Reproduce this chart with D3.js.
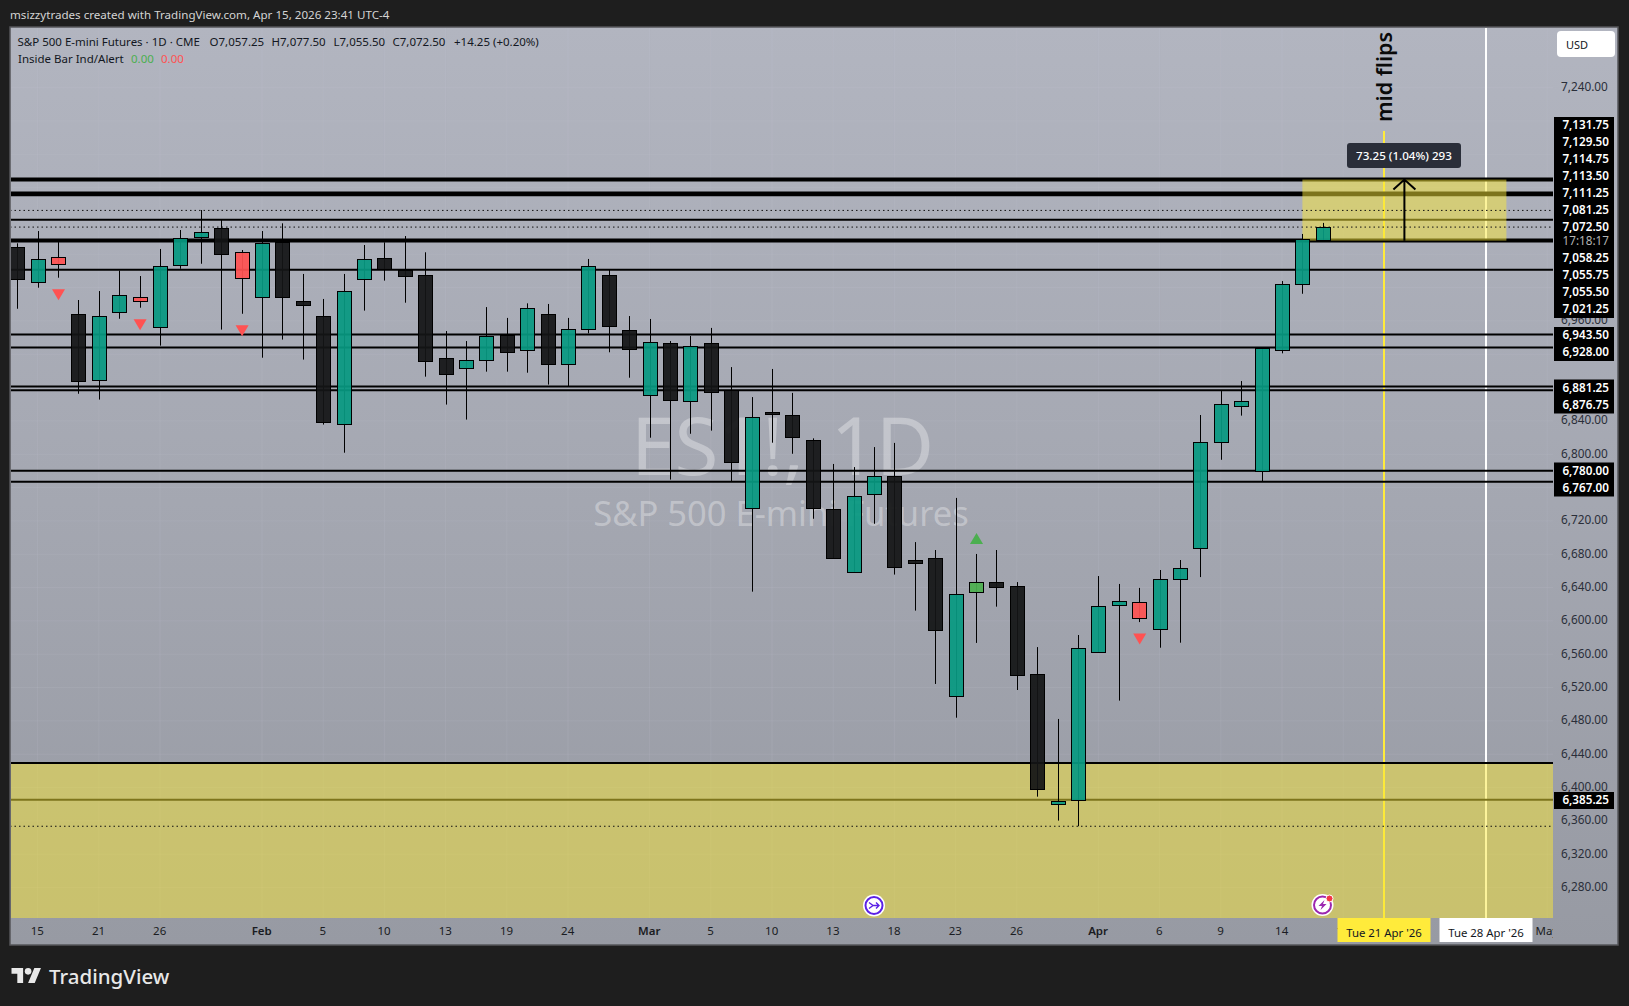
<!DOCTYPE html>
<html>
<head>
<meta charset="utf-8">
<title>ES1!, 1D</title>
<script src="https://cdn.jsdelivr.net/npm/d3@7"></script>
<style>
  html, body { margin: 0; padding: 0; background: #1e1e1e; overflow: hidden; }
  text { font-family: "Noto Sans", sans-serif; }
</style>
</head>
<body>
<div id="chart"></div>
<script>
// candles, one per session
const opens = [7048.25,7006.25,7036.25,6967.75,6888.25,6970.25,6988.25,6953.5,7026.25,7060.25,7071,7042.25,6988.25,7054.25,6983.5,6965.5,6835.75,7009.75,7035,7021,7014.5,6915,6903,6912.5,6942.5,6924.5,6967.75,6907.75,6949.75,7014.5,6948.5,6870.5,6933,6863.5,6933,6876.5,6735,6850.25,6846.5,6816.5,6733.75,6658.25,6751.75,6773.5,6673,6675,6509.5,6633.75,6646.25,6641.5,6535.75,6379.75,6384.5,6562.25,6618.5,6622.25,6589.75,6649.75,6688.25,6814.25,6857.5,6779.75,6924.5,7003.75,7057.25];
const highs = [7053,7067.75,7054.5,6985,6995.75,7020.25,7013.75,7046.25,7069,7093,7081,7045,7067.75,7077,7016.25,6986.25,7016.25,7051,7054.25,7061.75,7042.25,6947.75,6935.75,6976.5,6963.5,6981,6980.25,6963.5,7034.25,7021,6965.75,6962.25,6935.75,6941.75,6951.5,6904.5,6868.5,6902.25,6873.5,6819,6788.25,6784.5,6808.5,6813.5,6694.5,6685,6747.5,6680.25,6685,6646.5,6568.5,6482.25,6583,6653.75,6644.25,6639.5,6661,6673,6847,6875.75,6887.75,6927,7007.75,7064.25,7077.5];
const lows = [6974.5,6999.75,7011.75,6872.5,6865.5,6962.5,6975.75,6930.25,7022.5,7028.5,6949.5,6968.5,6915.75,6937.5,6913.5,6835.5,6801.75,6972.25,7008.25,6981.75,6893,6859.5,6841.5,6899,6899,6897.75,6883.5,6881.75,6945,6922.25,6891.75,6819.75,6769.5,6824.5,6828.25,6767.75,6635,6813.75,6800.5,6722.5,6675,6658.25,6716.5,6655.5,6612.25,6524.25,6483.75,6573.5,6617,6517,6389,6360.25,6353.5,6562.25,6504.25,6598.5,6567.75,6573.75,6652.5,6793.25,6846.25,6767.75,6921,6992.5,7055.5];
const closes = [7009.75,7033.75,7027.5,6887,6965.5,6990.5,6983.5,7026.25,7059,7066.25,7039.75,7011,7053,6988.25,6978.5,6837.75,6995.5,7033.75,7022.25,7013.5,6911,6895.75,6912.5,6941.75,6922.25,6975,6907.75,6949.75,7025.5,6953.5,6925.75,6934.25,6864.5,6929.5,6874.25,6790.25,6844.25,6847.75,6820.25,6735,6675,6749.5,6773.5,6664.25,6669.75,6588.5,6631.75,6646.25,6640.25,6534.5,6397.75,6383.5,6567,6617.5,6623.5,6603,6649.75,6663,6815,6859.75,6863.5,6927,7003.75,7057.75,7072.5];

// inside bar indicator
const redBars = [2, 6, 11, 55];
const greenBars = [47];

// axes, the price labels that sit fully behind the tags are left out
const gridPrices = [7240,7200,7160,7120,7080,7040,7000,6960,6920,6880,6840,6800,6760,6720,6680,6640,6600,6560,6520,6480,6440,6400,6360,6320,6280];
const priceTicks = [7240,6960,6840,6800,6720,6680,6640,6600,6560,6520,6480,6440,6400,6360,6320,6280];
const timeTicks = [1,4,7,12,15,18,21,24,27,31,34,37,40,43,46,49,53,56,59,62,65,75];
const timeLabels = ["15","21","26","Feb","5","10","13","19","24","Mar","5","10","13","18","23","26","Apr","6","9","14","17","May"];
const boldLabels = ["Feb", "Mar", "Apr"];

// drawn levels
const thickLevels = [7129.5, 7056.5];
const wideLevels = [7113.5, 7111.25];
const thinLevels = [7081.25, 7021.25, 6943.5, 6928, 6881.25, 6876.75, 6780, 6767];
const dottedLevels = [7092.5, 7072.5, 6353.5];

// price tags, each inner list is one stack on the price scale
const tagStacks = [
  ["7,131.75","7,129.50","7,114.75","7,113.50","7,111.25","7,081.25","7,072.50","17:18:17","7,058.25","7,055.75","7,055.50","7,021.25"],
  ["6,943.50","6,928.00"],
  ["6,881.25","6,876.75"],
  ["6,780.00","6,767.00"],
  ["6,385.25"]
];

const width = 1629, height = 1006;
const pane = {left: 10, top: 27, right: 1618, bottom: 945};
const plotRight = 1553, plotBottom = 918;
const tagTops = [117, 327, 379.5, 462.5, 792];

const x = d3.scaleLinear().domain([0, 75]).range([17.2, 17.2 + 75 * 20.4]);
const y = d3.scaleLinear().domain([7240, 6280]).range([87.5, 887.5]);

const svg = d3.select("#chart").append("svg")
  .attr("width", width)
  .attr("height", height)
  .style("display", "block");

const defs = svg.append("defs");
const grad = defs.append("linearGradient").attr("id", "bg").attr("x1", 0).attr("x2", 0).attr("y1", 0).attr("y2", 1);
grad.append("stop").attr("offset", "0%").attr("stop-color", "#b2b5c0");
grad.append("stop").attr("offset", "100%").attr("stop-color", "#979aa3");
defs.append("clipPath").attr("id", "plotClip").append("rect")
  .attr("x", pane.left + 1).attr("y", pane.top + 1)
  .attr("width", plotRight - pane.left - 1).attr("height", plotBottom - pane.top - 1);
defs.append("clipPath").attr("id", "timeClip").append("rect")
  .attr("x", pane.left + 1).attr("y", plotBottom)
  .attr("width", plotRight - pane.left - 1).attr("height", pane.bottom - plotBottom);

// background
svg.append("rect").attr("width", width).attr("height", height).attr("fill", "#1e1e1e");
svg.append("rect")
  .attr("x", pane.left).attr("y", pane.top)
  .attr("width", pane.right - pane.left).attr("height", pane.bottom - pane.top)
  .attr("fill", "url(#bg)")
  .attr("stroke", "#55565a")
  .attr("stroke-width", 1.5);

const plot = svg.append("g").attr("clip-path", "url(#plotClip)");

// grid
plot.selectAll(".gridY").data(gridPrices).enter().append("line")
  .attr("x1", pane.left).attr("x2", plotRight)
  .attr("y1", d => y(d)).attr("y2", d => y(d))
  .attr("stroke", "rgba(200,200,215,0.13)");
plot.selectAll(".gridX").data(timeTicks).enter().append("line")
  .attr("x1", d => x(d)).attr("x2", d => x(d))
  .attr("y1", pane.top).attr("y2", plotBottom)
  .attr("stroke", "rgba(200,200,215,0.13)");

// watermark
plot.append("text")
  .attr("x", 782).attr("y", 475)
  .attr("text-anchor", "middle")
  .attr("font-size", 80)
  .attr("word-spacing", 8)
  .attr("letter-spacing", -1)
  .attr("fill", "rgba(255,255,255,0.33)")
  .text("ES1!, 1D");
plot.append("text")
  .attr("x", 781).attr("y", 526)
  .attr("text-anchor", "middle")
  .attr("font-size", 34.5)
  .attr("fill", "rgba(255,255,255,0.33)")
  .text("S&P 500 E-mini Futures");

// vertical lines
plot.append("line")
  .attr("x1", x(67)).attr("x2", x(67))
  .attr("y1", 131).attr("y2", plotBottom)
  .attr("stroke", "#ffeb3b").attr("stroke-width", 2);
plot.append("line")
  .attr("x1", x(72)).attr("x2", x(72))
  .attr("y1", pane.top).attr("y2", plotBottom)
  .attr("stroke", "#ffffff").attr("stroke-width", 2);

// horizontal levels
function drawLevels(levels, w) {
  plot.selectAll(null).data(levels).enter().append("line")
    .attr("x1", pane.left).attr("x2", plotRight)
    .attr("y1", d => y(d)).attr("y2", d => y(d))
    .attr("stroke", "#000").attr("stroke-width", w);
}
drawLevels(thickLevels, 4);
drawLevels(wideLevels, 3);
drawLevels(thinLevels, 2);
drawLevels([6385.25], 2);

// yellow zones
plot.append("rect")
  .attr("x", pane.left).attr("y", y(6429.5))
  .attr("width", plotRight - pane.left).attr("height", plotBottom - y(6429.5))
  .attr("fill", "rgba(250,232,55,0.5)");
plot.append("rect")
  .attr("x", x(63)).attr("y", y(7129.5))
  .attr("width", x(73) - x(63)).attr("height", y(7056.25) - y(7129.5))
  .attr("fill", "rgba(250,232,55,0.5)");
drawLevels([6429.5], 2);

plot.selectAll(null).data(dottedLevels).enter().append("line")
  .attr("x1", pane.left).attr("x2", plotRight)
  .attr("y1", d => y(d)).attr("y2", d => y(d))
  .attr("stroke", "#111")
  .attr("stroke-width", 1)
  .attr("stroke-dasharray", "1.5 3");

// candles
const bars = d3.range(opens.length);
function barColor(i) {
  if (redBars.includes(i)) return "#ff5252";
  if (greenBars.includes(i)) return "#4caf50";
  return closes[i] >= opens[i] ? "#089981" : "#131416";
}
plot.selectAll(".wick").data(bars).enter().append("line")
  .attr("x1", i => Math.round(x(i)) + 0.5).attr("x2", i => Math.round(x(i)) + 0.5)
  .attr("y1", i => y(highs[i])).attr("y2", i => y(lows[i]))
  .attr("stroke", "#000").attr("stroke-width", 1);
plot.selectAll(".body").data(bars).enter().append("rect")
  .attr("x", i => Math.round(x(i)) - 6.5)
  .attr("width", 14)
  .attr("y", i => Math.round(y(Math.max(opens[i], closes[i]))) + 0.5)
  .attr("height", i => Math.max(2, Math.round(y(Math.min(opens[i], closes[i])) - y(Math.max(opens[i], closes[i])))))
  .attr("fill", barColor)
  .attr("fill-opacity", 0.93)
  .attr("stroke", "#000")
  .attr("stroke-width", 1);

// inside bar markers
plot.selectAll(".down").data(redBars).enter().append("path")
  .attr("d", i => {
    const cx = x(i) + 0.5, cy = y(lows[i]) + 17;
    return `M${cx - 6.5},${cy - 5.5}L${cx + 6.5},${cy - 5.5}L${cx},${cy + 5.5}Z`;
  })
  .attr("fill", "#ff5252");
plot.selectAll(".up").data(greenBars).enter().append("path")
  .attr("d", i => {
    const cx = x(i) + 0.5, cy = y(highs[i]) - 15.5;
    return `M${cx - 6.5},${cy + 5.5}L${cx + 6.5},${cy + 5.5}L${cx},${cy - 5.5}Z`;
  })
  .attr("fill", "#4caf50");

// price range measure
const arrowX = x(68);
plot.append("path")
  .attr("d", `M${arrowX},${y(7056.25)}L${arrowX},${y(7129.5)}M${arrowX - 11},${y(7129.5) + 10}L${arrowX},${y(7129.5)}L${arrowX + 11},${y(7129.5) + 10}`)
  .attr("fill", "none").attr("stroke", "#000").attr("stroke-width", 2);
plot.append("rect")
  .attr("x", 1347).attr("y", 143).attr("width", 114).attr("height", 25).attr("rx", 3)
  .attr("fill", "#2a2e39");
plot.append("text")
  .attr("x", 1404).attr("y", 159.5)
  .attr("text-anchor", "middle").attr("font-size", 11.6).attr("font-weight", 500)
  .attr("fill", "#fff")
  .text("73.25 (1.04%) 293");

// mid flips note
plot.append("text")
  .attr("transform", `translate(${x(67) + 7.5},77) rotate(-90)`)
  .attr("text-anchor", "middle")
  .attr("font-size", 21.5).attr("font-weight", 600)
  .attr("fill", "#0a0a0a")
  .text("mid flips");

// price axis
const priceAxis = svg.append("g")
  .attr("transform", `translate(${plotRight},0)`)
  .call(d3.axisRight(y).tickValues(priceTicks).tickSize(0).tickPadding(8).tickFormat(d3.format(",.2f")));
priceAxis.select(".domain").remove();
priceAxis.selectAll("text")
  .attr("font-size", 11.8).attr("font-family", "Noto Sans").attr("fill", "#2a2e39").attr("dy", ".25em");

// time axis
const timeAxis = svg.append("g")
  .attr("clip-path", "url(#timeClip)")
  .append("g")
  .attr("transform", `translate(-0.8,${plotBottom})`)
  .call(d3.axisBottom(x).tickValues(timeTicks).tickSize(0).tickPadding(8.5).tickFormat((d, i) => timeLabels[i]));
timeAxis.select(".domain").remove();
timeAxis.selectAll("text")
  .attr("font-size", 11.5).attr("font-family", "Noto Sans").attr("fill", "#1a1c22")
  .attr("font-weight", (d, i) => boldLabels.includes(timeLabels[i]) ? 600 : 400);

// date boxes on the time axis
[[67, "#ffeb3b", "Tue 21 Apr '26"], [72, "#ffffff", "Tue 28 Apr '26"]].forEach(b => {
  svg.append("rect")
    .attr("x", x(b[0]) - 46.5).attr("y", plotBottom)
    .attr("width", 93).attr("height", 24)
    .attr("fill", b[1]);
  svg.append("text")
    .attr("x", x(b[0])).attr("y", 937)
    .attr("text-anchor", "middle").attr("font-size", 11.4)
    .attr("fill", "#131722")
    .text(b[2]);
});

// price tags
const rowH = 17;
tagStacks.forEach((stack, s) => {
  svg.append("rect")
    .attr("x", 1554).attr("y", tagTops[s])
    .attr("width", 60).attr("height", stack.length * rowH - (s === 0 ? 3 : 0))
    .attr("fill", "#000");
  let rowY = tagTops[s] + rowH / 2;
  stack.forEach(t => {
    const isTimer = t.includes(":");
    if (isTimer) rowY -= 3;
    svg.append("text")
      .attr("x", 1609).attr("y", rowY + 3.5)
      .attr("text-anchor", "end").attr("font-size", 11.7).attr("font-weight", isTimer ? 400 : 600)
      .attr("fill", isTimer ? "#b4b4b4" : "#fff")
      .text(t);
    rowY += isTimer ? rowH - 0.5 : rowH;
  });
});

// USD button
svg.append("rect")
  .attr("x", 1557).attr("y", 31).attr("width", 58).attr("height", 26).attr("rx", 4)
  .attr("fill", "#fff");
svg.append("text")
  .attr("x", 1566).attr("y", 49)
  .attr("font-size", 11).attr("fill", "#131722")
  .text("USD");

// page header
svg.append("text")
  .attr("x", 10).attr("y", 19)
  .attr("font-size", 11.6).attr("fill", "#d4d4d4")
  .text("msizzytrades created with TradingView.com, Apr 15, 2026 23:41 UTC-4");

// legend
const legendText = [
  [17.5, "S&P 500 E-mini Futures · 1D · CME"],
  [209.5, "O7,057.25"],
  [271.5, "H7,077.50"],
  [333.5, "L7,055.50"],
  [392.5, "C7,072.50"],
  [454, "+14.25 (+0.20%)"]
];
legendText.forEach(t => {
  svg.append("text").attr("x", t[0]).attr("y", 46)
    .attr("font-size", 11.5).attr("fill", "#131722").text(t[1]);
});
svg.append("text").attr("x", 18).attr("y", 63)
  .attr("font-size", 11.5).attr("fill", "#131722").text("Inside Bar Ind/Alert");
svg.append("text").attr("x", 131).attr("y", 63)
  .attr("font-size", 11.5).attr("fill", "#4caf50").text("0.00");
svg.append("text").attr("x", 161).attr("y", 63)
  .attr("font-size", 11.5).attr("fill", "#ff5252").text("0.00");

// event icons along the bottom
const icon1 = svg.append("g").attr("transform", "translate(874,905.5)");
icon1.append("circle").attr("r", 11).attr("fill", "#fff");
icon1.append("circle").attr("r", 8.5).attr("fill", "#fff").attr("stroke", "#5b21e6").attr("stroke-width", 2);
icon1.append("path")
  .attr("d", "M-5,-3L-1,0L-5,3M-1,0L5,0M2,-3L5,0L2,3")
  .attr("fill", "none").attr("stroke", "#5b21e6").attr("stroke-width", 1.4);
const icon2 = svg.append("g").attr("transform", "translate(1322.5,905)");
icon2.append("circle").attr("r", 11).attr("fill", "#fff");
icon2.append("circle").attr("r", 8.5).attr("fill", "#fff").attr("stroke", "#9c27b0").attr("stroke-width", 2);
icon2.append("path").attr("d", "M2,-5L-4,1L-0.5,1L-2,5L4,-1L0.5,-1Z").attr("fill", "#9c27b0");
icon2.append("circle").attr("cx", 7).attr("cy", -6.5).attr("r", 3.5).attr("fill", "#f23645").attr("stroke", "#fff");

// TradingView mark
const logo = svg.append("g").attr("transform", "translate(11.5,964.7) scale(0.83)").attr("fill", "#e8e8e8");
logo.append("path").attr("d", "M14 22H7V11H0V4h14v18zM28 22h-8l7.5-18h8L28 22z");
logo.append("circle").attr("cx", 20).attr("cy", 8).attr("r", 4);
svg.append("text")
  .attr("x", 49).attr("y", 983.5)
  .attr("font-size", 20.5).attr("font-weight", 500)
  .attr("fill", "#e8e8e8")
  .text("TradingView");
</script>
</body>
</html>
